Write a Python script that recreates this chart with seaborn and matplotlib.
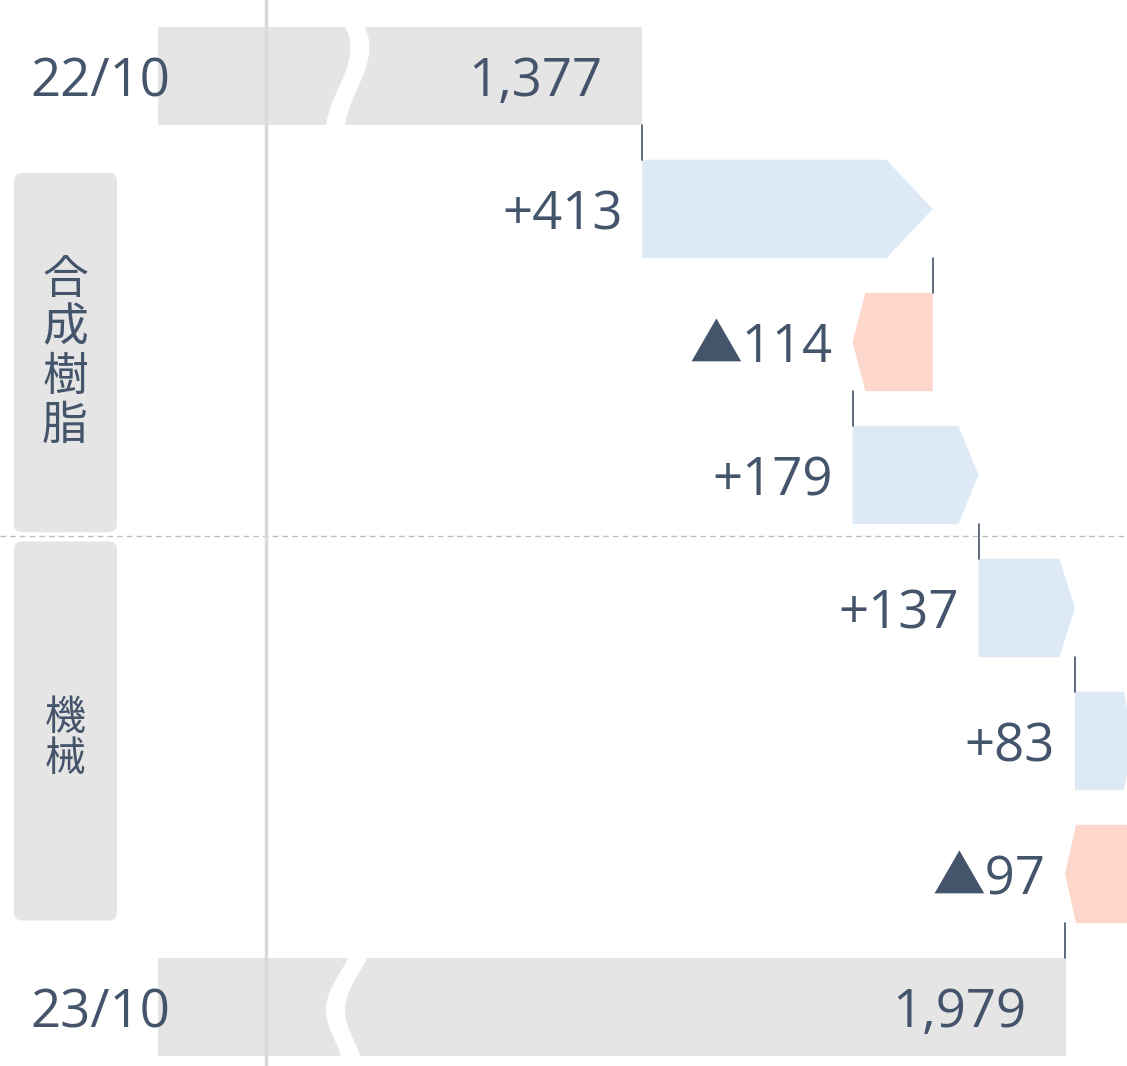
import numpy as np
import pandas as pd
import matplotlib
matplotlib.use("Agg")
import matplotlib.pyplot as plt
import matplotlib.transforms as mtransforms
from matplotlib.patches import Polygon, FancyBboxPatch
from matplotlib.lines import Line2D
import seaborn as sns

# Data
periods = ["22/10", "23/10"]
totals = [1377, 1979]
step_values = [413, -114, 179, 137, 83, -97]
segments = ["合成樹脂", "機械"]

TEXT = "#44546a"
GRAY = "#e5e5e5"
UP = "#dde9f5"
DOWN = "#fdd6cc"


def fmt_step(v):
    return f"+{v}" if v > 0 else f"▲{-v}"


step_labels = [fmt_step(v) for v in step_values]
rows = [periods[0]] + step_labels + [periods[1]]

sns.set_theme(style="white")
plt.rcParams["font.family"] = ["Open Sans", "Noto Sans CJK JP", "DejaVu Sans"]

W, H = 1127, 1066
fig = plt.figure(figsize=(W / 100, H / 100), dpi=100)
fig.patch.set_facecolor("white")
ax = fig.add_axes([158 / W, 0, 1 - 158 / W, 1])
ax.patch.set_visible(False)

# totals (start / end of the waterfall)
df_tot = pd.DataFrame({"period": periods, "value": totals})
sns.barplot(data=df_tot, x="value", y="period", order=rows, orient="h",
            color=GRAY, saturation=1, width=0.74, errorbar=None,
            linewidth=0, ax=ax, zorder=1)

ax.set_xlim(689, 2066)
ax.set_ylim(7.444, -0.571)
ax.set_axis_off()

bar_h = 0.74
FS = 38

# step bars (arrow shaped)
cum = totals[0]
for i, v in enumerate(step_values):
    y = i + 1
    start, end = cum, cum + v
    tip = 0.16 * abs(v)
    top, bot = y - bar_h / 2, y + bar_h / 2
    sgn = 1 if v > 0 else -1
    pts = [(start, top), (end - sgn * tip, top), (end, y),
           (end - sgn * tip, bot), (start, bot)]
    ax.add_patch(Polygon(pts, closed=True, facecolor=UP if v > 0 else DOWN,
                         edgecolor="none", zorder=2))
    ax.plot([start, start], [y - 1 + bar_h / 2, top], color=TEXT, lw=1.2, zorder=3)
    ax.text(min(start, end) - 28, y, step_labels[i], ha="right",
            va="center_baseline", fontsize=FS, color=TEXT, zorder=4)
    cum = end
last = len(rows) - 1
ax.plot([cum, cum], [last - 1 + bar_h / 2, last - bar_h / 2], color=TEXT, lw=1.2, zorder=3)

# total values inside bars
for r, v in zip([0, last], totals):
    ax.text(v - 56, r, f"{v:,}", ha="right", va="center_baseline",
            fontsize=FS, color=TEXT, zorder=4)

# axis break marks on the total bars
def break_band(row, x0, ts, dxs, width):
    coef = np.polyfit(ts, dxs, len(ts) - 1)
    t = np.linspace(-0.03, 1.03, 60)
    xl = x0 + np.polyval(coef, t)
    yy = row - bar_h / 2 + bar_h * t
    pts = np.vstack([np.column_stack([xl, yy]),
                     np.column_stack([xl + width, yy])[::-1]])
    ax.add_patch(Polygon(pts, closed=True, facecolor="white", edgecolor="none", zorder=1.5))

break_band(0, 955, [0, 0.27, 0.65, 1], [0, 7, -11, -27], 27)
break_band(last, 959, [0, 0.3, 0.56, 0.77, 1], [0, -23, -31, -23, -10], 27)

# decorations spanning the left margin
fig_data = mtransforms.blended_transform_factory(fig.transFigure, ax.transData)
fig_axes = mtransforms.blended_transform_factory(fig.transFigure, ax.transAxes)

ax.add_line(Line2D([266 / W, 266 / W], [0, 1], transform=fig_axes,
                   color="#d9d9d9", lw=2.5, zorder=3, clip_on=False))
ax.add_line(Line2D([0, 1], [3.46, 3.46], transform=fig_data, color="#bdbdbd",
                   lw=1, ls=(0, (4, 3)), zorder=0.5, clip_on=False))

for r, p in zip([0, last], periods):
    ax.text(30 / W, r, p, transform=fig_data, ha="left", va="center_baseline",
            fontsize=FS, color=TEXT, zorder=4, clip_on=False)

# segment boxes
box_extent = [(0.73, 3.43), (3.50, 6.35)]
seg_fs = [33, 29.5]
seg_dy = [0.0, 0.06]
fig.canvas.draw()
for name, (y0, y1), fs, dy in zip(segments, box_extent, seg_fs, seg_dy):
    _, py0 = ax.transData.transform((1000, y1))
    _, py1 = ax.transData.transform((1000, y0))
    box = FancyBboxPatch((14, py0), 103, py1 - py0,
                         boxstyle="round,pad=0,rounding_size=8",
                         transform=mtransforms.IdentityTransform(),
                         facecolor=GRAY, edgecolor="none", zorder=-1)
    fig.add_artist(box)
    ax.text(65 / W, (y0 + y1) / 2 + dy, "\n".join(name), transform=fig_data,
            ha="center", va="center", fontsize=fs, color=TEXT,
            family=["Noto Sans CJK JP", "DejaVu Sans"],
            linespacing=1.0, zorder=4, clip_on=False)

fig.savefig("out.png", dpi=100)
